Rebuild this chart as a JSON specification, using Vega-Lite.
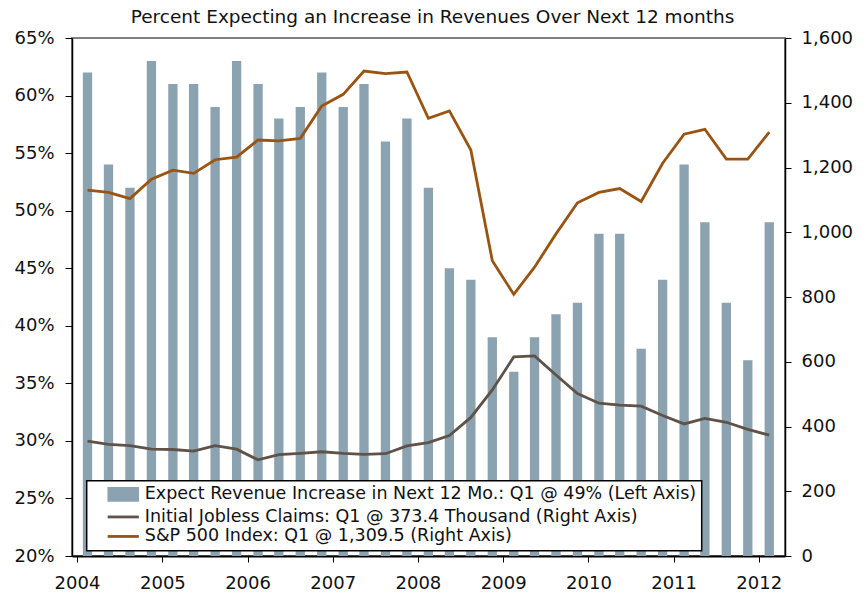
{
  "$schema": "https://vega.github.io/schema/vega-lite/v6.json",
  "width": 713,
  "height": 518,
  "autosize": {"type": "none"},
  "padding": {"left": 72, "top": 38, "right": 83, "bottom": 39},
  "background": "white",
  "config": {
    "view": {"stroke": "#808080", "strokeWidth": 2},
    "font": "DejaVu Sans"
  },
  "title": {
    "text": "Percent Expecting an Increase in Revenues Over Next 12 months",
    "font": "DejaVu Sans",
    "fontSize": 18.5,
    "fontWeight": "normal",
    "color": "#111111",
    "offset": 3,
    "dx": 4,
    "anchor": "middle"
  },
  "data": {
    "values": [
      {"date": "2004-02-15", "pct": 62, "claims": 355, "sp": 1130},
      {"date": "2004-05-15", "pct": 54, "claims": 345, "sp": 1123},
      {"date": "2004-08-15", "pct": 52, "claims": 341, "sp": 1104},
      {"date": "2004-11-15", "pct": 63, "claims": 330, "sp": 1164},
      {"date": "2005-02-15", "pct": 61, "claims": 329, "sp": 1192},
      {"date": "2005-05-15", "pct": 61, "claims": 324, "sp": 1182},
      {"date": "2005-08-15", "pct": 59, "claims": 341, "sp": 1224},
      {"date": "2005-11-15", "pct": 63, "claims": 330, "sp": 1232},
      {"date": "2006-02-15", "pct": 61, "claims": 297, "sp": 1285},
      {"date": "2006-05-15", "pct": 58, "claims": 313, "sp": 1282},
      {"date": "2006-08-15", "pct": 59, "claims": 317, "sp": 1290},
      {"date": "2006-11-15", "pct": 62, "claims": 322, "sp": 1390},
      {"date": "2007-02-15", "pct": 59, "claims": 317, "sp": 1426},
      {"date": "2007-05-15", "pct": 61, "claims": 314, "sp": 1498},
      {"date": "2007-08-15", "pct": 56, "claims": 316, "sp": 1490},
      {"date": "2007-11-15", "pct": 58, "claims": 340, "sp": 1495},
      {"date": "2008-02-15", "pct": 52, "claims": 350, "sp": 1352},
      {"date": "2008-05-15", "pct": 45, "claims": 372, "sp": 1375},
      {"date": "2008-08-15", "pct": 44, "claims": 428, "sp": 1254},
      {"date": "2008-11-15", "pct": 39, "claims": 513, "sp": 912},
      {"date": "2009-02-15", "pct": 36, "claims": 615, "sp": 808},
      {"date": "2009-05-15", "pct": 39, "claims": 618, "sp": 892},
      {"date": "2009-08-15", "pct": 41, "claims": 559, "sp": 995},
      {"date": "2009-11-15", "pct": 42, "claims": 502, "sp": 1091},
      {"date": "2010-02-15", "pct": 48, "claims": 472, "sp": 1123},
      {"date": "2010-05-15", "pct": 48, "claims": 466, "sp": 1135},
      {"date": "2010-08-15", "pct": 38, "claims": 463, "sp": 1095},
      {"date": "2010-11-15", "pct": 44, "claims": 434, "sp": 1213},
      {"date": "2011-02-15", "pct": 54, "claims": 408, "sp": 1303},
      {"date": "2011-05-15", "pct": 49, "claims": 425, "sp": 1318},
      {"date": "2011-08-15", "pct": 42, "claims": 413, "sp": 1226},
      {"date": "2011-11-15", "pct": 37, "claims": 391, "sp": 1226},
      {"date": "2012-02-15", "pct": 49, "claims": 373.4, "sp": 1309.5}
    ]
  },
  "encoding": {
    "x": {
      "field": "date",
      "type": "temporal",
      "scale": {
        "type": "utc",
        "domain": [
          {"year": 2004, "month": 1, "date": 1, "utc": true},
          {"year": 2012, "month": 4, "date": 1, "utc": true}
        ]
      },
      "axis": {
        "title": null,
        "grid": false,
        "format": "%Y",
        "values": [
          {"year": 2004, "month": 1, "date": 1, "utc": true},
          {"year": 2005, "month": 1, "date": 1, "utc": true},
          {"year": 2006, "month": 1, "date": 1, "utc": true},
          {"year": 2007, "month": 1, "date": 1, "utc": true},
          {"year": 2008, "month": 1, "date": 1, "utc": true},
          {"year": 2009, "month": 1, "date": 1, "utc": true},
          {"year": 2010, "month": 1, "date": 1, "utc": true},
          {"year": 2011, "month": 1, "date": 1, "utc": true},
          {"year": 2012, "month": 1, "date": 1, "utc": true}
        ],
        "labelFlush": false,
        "labelFontSize": 18,
        "labelColor": "#111111",
        "labelPadding": 12,
        "tickSize": 6,
        "tickColor": "black",
        "domainColor": "black",
        "domainWidth": 2
      }
    }
  },
  "layer": [
    {
      "mark": {"type": "bar", "size": 9.3},
      "encoding": {
        "y": {
          "field": "pct",
          "type": "quantitative",
          "scale": {"domain": [20, 65], "nice": false, "zero": false},
          "axis": {
            "orient": "left",
            "title": null,
            "grid": false,
            "values": [20, 25, 30, 35, 40, 45, 50, 55, 60, 65],
            "labelExpr": "datum.value + '%'",
            "labelFontSize": 18,
            "labelColor": "#111111",
            "labelPadding": 11,
            "tickSize": 7,
            "tickColor": "black",
            "domainColor": "black",
            "domainWidth": 1.5
          }
        },
        "y2": {"datum": 20},
        "color": {
          "datum": "Expect Revenue Increase in Next 12 Mo.: Q1 @ 49% (Left Axis)",
          "scale": {
            "domain": [
              "Expect Revenue Increase in Next 12 Mo.: Q1 @ 49% (Left Axis)",
              "Initial Jobless Claims: Q1 @ 373.4 Thousand (Right Axis)",
              "S&P 500 Index: Q1 @ 1,309.5  (Right Axis)"
            ],
            "range": ["#8BA2B1", "#5F5248", "#9A5412"]
          },
          "legend": {
            "orient": "none",
            "legendX": 14.7,
            "legendY": 442.7,
            "title": null,
            "direction": "vertical",
            "strokeColor": "black",
            "fillColor": "white",
            "padding": 5,
            "labelFont": "DejaVu Sans",
            "labelFontSize": 17.5,
            "labelColor": "#111111",
            "labelLimit": 1000,
            "labelOffset": 12.8,
            "symbolOffset": 22.8,
            "rowPadding": 0.5,
            "symbolSize": 144,
            "symbolStrokeWidth": 2.8,
            "encode": {
              "legend": {
                "update": {
                  "strokeWidth": {"value": 1.5}
                }
              },
              "symbols": {
                "update": {
                  "shape": {"signal": "indexof(datum.value, 'Expect') == 0 ? 'M-2.4,-1H2.4V1H-2.4Z' : 'M-2.6,0H2.6'"},
                  "fill": {"signal": "indexof(datum.value, 'Expect') == 0 ? '#8BA2B1' : 'transparent'"},
                  "stroke": {"signal": "indexof(datum.value, 'Expect') == 0 ? 'transparent' : (indexof(datum.value, 'Initial') == 0 ? '#5F5248' : '#9A5412')"},
                  "strokeWidth": {"value": 2.8},
                  "size": {"value": 144},
                  "opacity": {"value": 1}
                }
              }
            }
          }
        }
      }
    },
    {
      "layer": [
        {
          "mark": {"type": "line", "strokeWidth": 2.8},
          "encoding": {
            "y": {
              "field": "claims",
              "type": "quantitative",
              "scale": {"domain": [0, 1600], "nice": false},
              "axis": {
                "orient": "right",
                "title": null,
                "grid": false,
                "values": [0, 200, 400, 600, 800, 1000, 1200, 1400, 1600],
                "format": ",d",
                "labelFontSize": 18,
                "labelColor": "#111111",
                "labelPadding": 10,
                "tickSize": 6,
                "tickColor": "black",
                "domainColor": "black",
                "domainWidth": 1.5
              }
            },
            "color": {"datum": "Initial Jobless Claims: Q1 @ 373.4 Thousand (Right Axis)"}
          }
        },
        {
          "mark": {"type": "line", "strokeWidth": 2.8},
          "encoding": {
            "y": {"field": "sp", "type": "quantitative"},
            "color": {"datum": "S&P 500 Index: Q1 @ 1,309.5  (Right Axis)"}
          }
        }
      ]
    }
  ],
  "resolve": {"scale": {"y": "independent"}}
}
